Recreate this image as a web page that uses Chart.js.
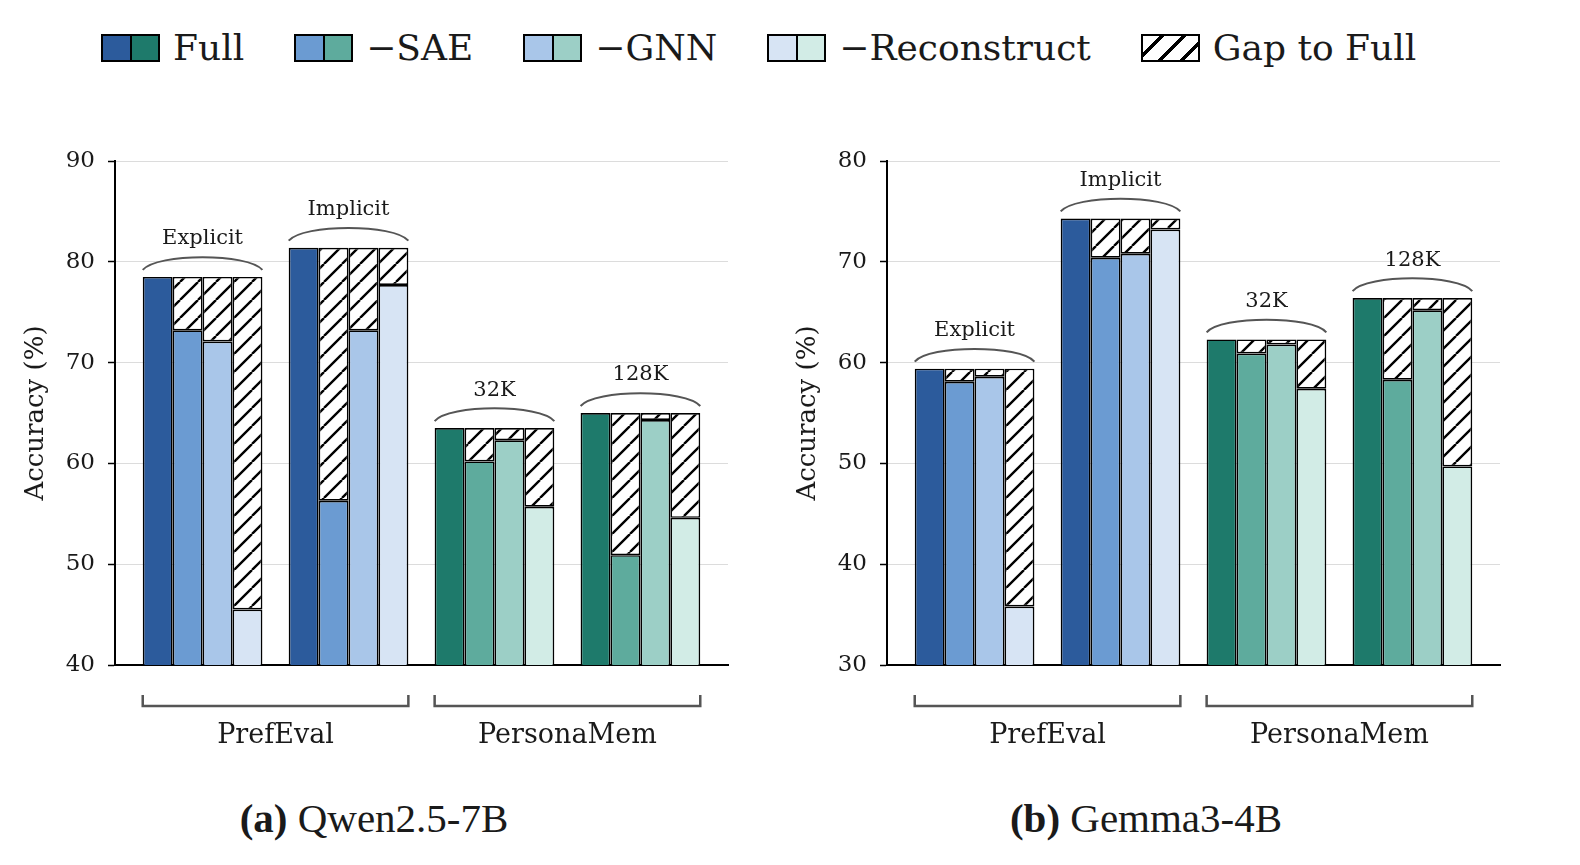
<!DOCTYPE html>
<html>
<head>
<meta charset="utf-8">
<script src="https://cdn.jsdelivr.net/npm/chart.js@4.4.1/dist/chart.umd.min.js"></script>
<style>
  body { margin: 0; background: #fff; width: 1580px; height: 865px; position: relative; overflow: hidden; font-family: "DejaVu Serif", serif; color: #1a1a1a; }
  #legend { position: absolute; left: 101px; top: 25px; display: flex; align-items: center; gap: 50px; }
  .item { display: flex; align-items: center; gap: 13px; font-size: 36px; line-height: 46px; }
  .sw { display: flex; box-sizing: border-box; width: 59px; height: 28px; border: 2.5px solid #000; }
  .sw span { flex: 1; }
  .sw span + span { border-left: 2px solid #000; }
  .hatch { box-sizing: border-box; width: 59px; height: 28px; border: 2.5px solid #000;
           background: repeating-linear-gradient(135deg, #fff 0 12px, #000 12px 15.5px); }
  .panel { position: absolute; top: 120px; width: 760px; height: 640px; }
  .caption { position: absolute; top: 794px; width: 740px; text-align: center; font-family: "Liberation Serif", serif; font-size: 41px; }
</style>
</head>
<body>
<div id="legend"></div>
<div class="panel" style="left:0"><canvas id="qwen" width="760" height="640"></canvas></div>
<div class="panel" style="left:772px"><canvas id="gemma" width="760" height="640"></canvas></div>
<div class="caption" style="left:4px"><b>(a)</b> Qwen2.5-7B</div>
<div class="caption" style="left:776px"><b>(b)</b> Gemma3-4B</div>
<script>
// groups on the x axis and the two benchmarks they belong to
const groupLabels = ["Explicit", "Implicit", "32K", "128K"];
const benchmarkLabels = ["PrefEval", "PersonaMem"];
const benchmarkGroups = [[0, 1], [2, 3]];
const variantNames = ["Full", "\u2212SAE", "\u2212GNN", "\u2212Reconstruct"];

// Qwen2.5-7B accuracy (%)
const qwenFull  = [78.5, 81.4, 63.5, 65.0];
const qwenSAE   = [73.2, 56.3, 60.2, 50.9];
const qwenGNN   = [72.1, 73.2, 62.3, 64.3];
const qwenRecon = [45.5, 77.7, 55.7, 54.6];
const qwenTicks = [40, 50, 60, 70, 80, 90];

// Gemma3-4B accuracy (%)
const gemmaFull  = [59.4, 74.3, 62.3, 66.4];
const gemmaSAE   = [58.1, 70.4, 60.9, 58.3];
const gemmaGNN   = [58.6, 70.8, 61.8, 65.2];
const gemmaRecon = [35.8, 73.2, 57.4, 49.7];
const gemmaTicks = [30, 40, 50, 60, 70, 80];

const blues = ["#2c5b9c", "#6b9bd2", "#a9c6e9", "#d7e4f4"];
const teals = ["#1e7a6b", "#5eab9d", "#9ccfc6", "#d2ece6"];
const groupPalette = [blues, blues, teals, teals];

Chart.defaults.font.family = '"DejaVu Serif", serif';
Chart.defaults.color = "#1a1a1a";

// legend (html)
const legend = document.getElementById("legend");
variantNames.forEach((name, v) => {
  legend.insertAdjacentHTML("beforeend",
    `<div class="item"><div class="sw"><span style="background:${blues[v]}"></span><span style="background:${teals[v]}"></span></div>${name}</div>`);
});
legend.insertAdjacentHTML("beforeend", `<div class="item"><div class="hatch"></div>Gap to Full</div>`);

function makeHatch(ctx) {
  const s = 18;
  const c = document.createElement("canvas");
  c.width = c.height = s;
  const g = c.getContext("2d");
  g.fillStyle = "#fff";
  g.fillRect(0, 0, s, s);
  g.strokeStyle = "#000";
  g.lineWidth = 2.4;
  g.beginPath();
  for (const k of [-1, 0, 1]) {
    g.moveTo(k * s, s);
    g.lineTo(k * s + s, 0);
  }
  g.stroke();
  return ctx.createPattern(c, "repeat");
}

function buildDatasets(series, hatch) {
  const full = series[0];
  const out = [];
  series.forEach((vals, v) => {
    out.push({
      label: variantNames[v],
      stack: "s" + v,
      data: vals.map((y, i) => ({ x: i, y: y })),
      backgroundColor: groupLabels.map((_, i) => groupPalette[i][v]),
      borderColor: "#000",
      borderWidth: 1.7,
      borderSkipped: false,
    });
    if (v > 0) {
      out.push({
        label: "Gap to Full",
        stack: "s" + v,
        data: vals.map((y, i) => ({ x: i, y: +(full[i] - y).toFixed(2) })),
        backgroundColor: hatch,
        borderColor: "#000",
        borderWidth: 1.7,
        borderSkipped: false,
      });
    }
  });
  return out;
}

// braces + group names above bars, brackets + benchmark names below
const groupMarks = {
  id: "groupMarks",
  afterDraw(chart, args, opts) {
    const { ctx, chartArea, scales: { y } } = chart;
    const first = chart.getDatasetMeta(0).data;
    const last = chart.getDatasetMeta(chart.data.datasets.length - 1).data;
    const spans = first.map((b, i) => [b.x - b.width / 2, last[i].x + last[i].width / 2]);

    ctx.save();
    ctx.textAlign = "center";
    ctx.textBaseline = "middle";
    ctx.fillStyle = "#1a1a1a";
    ctx.strokeStyle = "#555";
    ctx.lineWidth = 2;
    ctx.font = '21px "DejaVu Serif"';
    spans.forEach(([x0, x1], i) => {
      const top = y.getPixelForValue(opts.full[i]);
      const yEnd = top - 7;
      const w = x1 - x0;
      ctx.beginPath();
      ctx.moveTo(x0, yEnd);
      ctx.bezierCurveTo(x0 + w * 0.12, yEnd - 17, x1 - w * 0.12, yEnd - 17, x1, yEnd);
      ctx.stroke();
      ctx.fillText(groupLabels[i], (x0 + x1) / 2, top - 38);
    });

    const by = chartArea.bottom + 41;
    ctx.lineWidth = 2.5;
    ctx.font = '27px "DejaVu Serif"';
    benchmarkGroups.forEach(([a, b], k) => {
      const x0 = spans[a][0], x1 = spans[b][1];
      ctx.beginPath();
      ctx.moveTo(x0, by - 11);
      ctx.lineTo(x0, by);
      ctx.lineTo(x1, by);
      ctx.lineTo(x1, by - 11);
      ctx.stroke();
      ctx.fillText(benchmarkLabels[k], (x0 + x1) / 2, chartArea.bottom + 71);
    });
    ctx.restore();
  },
};

function drawPanel(id, series, ticks) {
  const ctx = document.getElementById(id).getContext("2d");
  return new Chart(ctx, {
    type: "bar",
    data: { datasets: buildDatasets(series, makeHatch(ctx)) },
    plugins: [groupMarks],
    options: {
      responsive: false,
      animation: false,
      categoryPercentage: 0.82,
      barPercentage: 1.0,
      layout: { padding: { left: 21, right: 32, top: 41, bottom: 95 } },
      plugins: {
        legend: { display: false },
        tooltip: { enabled: false },
        groupMarks: { full: series[0] },
      },
      scales: {
        x: {
          type: "linear",
          min: -0.6,
          max: 3.6,
          offset: false,
          afterBuildTicks: (s) => { s.ticks = groupLabels.map((_, i) => ({ value: i })); },
          ticks: { display: false },
          grid: { display: false, offset: false },
          border: { display: true, color: "#000", width: 2 },
          afterFit: (s) => { s.height = 0; },
        },
        y: {
          stacked: true,
          min: ticks[0],
          max: ticks[ticks.length - 1],
          afterBuildTicks: (s) => { s.ticks = ticks.map((v) => ({ value: v })); },
          ticks: { font: { size: 23 }, padding: 13, color: "#1a1a1a" },
          grid: { color: "#dcdcdc", lineWidth: 1, tickColor: "#000", tickWidth: 1.5, tickLength: 7 },
          border: { display: true, color: "#000", width: 2 },
          title: { display: true, text: "Accuracy (%)", font: { size: 26 }, color: "#1a1a1a", padding: { top: 0, bottom: 0 } },
          afterFit: (s) => { s.width = 94; },
        },
      },
    },
  });
}

drawPanel("qwen", [qwenFull, qwenSAE, qwenGNN, qwenRecon], qwenTicks);
drawPanel("gemma", [gemmaFull, gemmaSAE, gemmaGNN, gemmaRecon], gemmaTicks);
</script>
</body>
</html>
